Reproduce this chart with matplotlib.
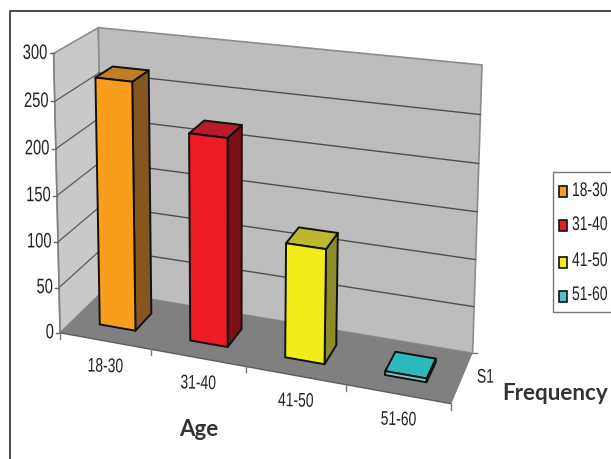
import numpy as np
import matplotlib
matplotlib.use("Agg")
import matplotlib.pyplot as plt
from matplotlib.patches import Polygon, Rectangle
from matplotlib.patheffects import AbstractPathEffect
from matplotlib.transforms import Affine2D

# Chart data
categories = ["18-30", "31-40", "41-50", "51-60"]
frequency = [269, 222, 121, 4]
value_ticks = [0, 50, 100, 150, 200, 250, 300]
series_label = "S1"

front_colors = ["#F99D1C", "#ED1C24", "#F2EC1C", "#6CD0D2"]
top_colors = ["#C07F24", "#B81C2A", "#BDB92E", "#2CB9BD"]
side_colors = ["#85561F", "#7D1014", "#8E8B28", "#1E8F92"]
legend_colors = ["#F99D1C", "#ED1C24", "#F2EC1C", "#4EC0D0"]

SANS = ["Liberation Sans", "DejaVu Sans"]
BOLD = ["Lato", "Open Sans", "DejaVu Sans"]


class TallText(AbstractPathEffect):
    """Stretch glyphs upward from the baseline for a condensed look."""

    def __init__(self, factor):
        super().__init__()
        self.factor = factor

    def draw_path(self, renderer, gc, tpath, affine, rgbFace=None):
        renderer.draw_path(gc, tpath, Affine2D().scale(1, self.factor) + affine, rgbFace)


tall = [TallText(1.42)]

# Perspective camera of the 3-D box, solved from the box corners.
# World axes: category position, depth (0 front, 1 back), value.
n_cat = len(categories)
vmax = value_ticks[-1]
world_corners = np.array([
    [0, 0, 0], [0, 0, vmax], [0, 1, vmax], [0, 1, 0],
    [n_cat, 1, 0], [n_cat, 1, vmax], [n_cat, 0, 0],
], float)
pixel_corners = np.array([
    [61, 333], [53, 53], [99, 28], [102, 291],
    [473, 353], [482, 65], [451, 404],
], float)


def solve_camera(world, pixels):
    rows, rhs = [], []
    for (X, Y, Z), (u, v) in zip(world, pixels):
        rows.append([X, Y, Z, 1, 0, 0, 0, 0, -u * X, -u * Y, -u * Z])
        rows.append([0, 0, 0, 0, X, Y, Z, 1, -v * X, -v * Y, -v * Z])
        rhs += [u, v]
    sol = np.linalg.lstsq(np.array(rows), np.array(rhs), rcond=None)[0]
    return np.append(sol, 1.0).reshape(3, 4)


camera = solve_camera(world_corners, pixel_corners)


def project(x, d, v):
    p = camera @ np.array([x, d, v, 1.0])
    return p[:2] / p[2]


def face(ax, pts, color, edge="none", lw=0.0, z=1):
    ax.add_patch(Polygon([project(*p) for p in pts], closed=True, facecolor=color,
                         edgecolor=edge, linewidth=lw, joinstyle="round", zorder=z))


def seg(ax, a, b, color, lw, z=2):
    pa, pb = project(*a), project(*b)
    ax.plot([pa[0], pb[0]], [pa[1], pb[1]], color=color, lw=lw, zorder=z,
            solid_capstyle="round")


def label(ax, x, y, s, ha="center", rotation=0.0, size=10.0):
    t = ax.text(x, y, s, ha=ha, va="center", fontsize=size, family=SANS,
                color="#222222", rotation=rotation, zorder=7)
    t.set_path_effects(tall)
    return t


fig = plt.figure(figsize=(6.11, 4.59), dpi=100, facecolor="white")
ax = fig.add_axes([0, 0, 1, 1])
ax.set_xlim(0, 611)
ax.set_ylim(459, 0)
ax.axis("off")

# Outer chart frame, open towards the right and bottom
ax.plot([10, 10, 611], [459, 11, 11], color="#4A4A4A", lw=1.4, zorder=1)

# Walls and floor
wall_edge = "#8C8C8C"
face(ax, [(0, 0, 0), (0, 1, 0), (0, 1, vmax), (0, 0, vmax)], "#C9C9C9", wall_edge, 1.2)
face(ax, [(0, 1, 0), (n_cat, 1, 0), (n_cat, 1, vmax), (0, 1, vmax)], "#BDBDBD", wall_edge, 1.2)
face(ax, [(0, 0, 0), (n_cat, 0, 0), (n_cat, 1, 0), (0, 1, 0)], "#808080")

# Gridlines on both walls
for v in value_ticks[1:-1]:
    seg(ax, (0, 0, v), (0, 1, v), "#5A5A5A", 0.9)
    seg(ax, (0, 1, v), (n_cat, 1, v), "#4F4F4F", 1.0)

# Value axis
seg(ax, (0, 0, 0), (0, 0, vmax), "#808080", 1.0, z=3)
for v in value_ticks:
    px, py = project(0, 0, v)
    ax.plot([px - 4, px], [py, py], color="#666666", lw=1.0, zorder=3)
    label(ax, px - 6, py + 1.5, str(v), ha="right", size=10.6)

# Category axis along the front of the floor
seg(ax, (0, 0, 0), (n_cat, 0, 0), "#5C5C5C", 1.0, z=3)
for k in range(n_cat + 1):
    px, py = project(k, 0, 0)
    ax.plot([px, px], [py, py + 6], color="#777777", lw=1.0, zorder=3)
for k, name in enumerate(categories):
    px, py = project(k + 0.5, 0, 0)
    label(ax, px + 0.5, py + 27, name, rotation=-1.5)

# Series axis on the right of the floor
px, py = project(n_cat, 1, 0)
ax.plot([px, px + 4], [py, py], color="#777777", lw=1.0, zorder=3)
px, py = project(n_cat, 0.5, 0)
label(ax, px + 23, py + 1, series_label)

# Bars, each with front, side and top faces
x0_frac, x1_frac = 0.3, 0.7
d0, d1 = 0.3, 0.7
ink = "#111111"
for k, v in enumerate(frequency):
    xa, xb = k + x0_frac, k + x1_frac
    face(ax, [(xb, d0, 0), (xb, d1, 0), (xb, d1, v), (xb, d0, v)], side_colors[k], ink, 1.4, z=4)
    face(ax, [(xa, d0, v), (xb, d0, v), (xb, d1, v), (xa, d1, v)], top_colors[k], ink, 1.4, z=4)
    face(ax, [(xa, d0, 0), (xb, d0, 0), (xb, d0, v), (xa, d0, v)], front_colors[k], ink, 1.4, z=4)

# Axis titles
ax.text(199, 429, "Age", ha="center", va="center", fontsize=16, family=BOLD,
        fontweight="bold", color="#333333", zorder=5)
ax.text(555, 394, "Frequency", ha="center", va="center", fontsize=16.2, family=BOLD,
        fontweight="bold", color="#333333", zorder=5)

# Legend box, running off the right edge
ax.add_patch(Rectangle((553, 172), 70, 140, facecolor="white", edgecolor="#777777",
                       linewidth=1.0, zorder=5))
legend_text_y = [192, 226, 262, 296]
legend_swatch_y = [191, 225, 262, 296]
for name, color, ty, sy in zip(categories, legend_colors, legend_text_y, legend_swatch_y):
    ax.add_patch(Rectangle((559, sy - 5.5), 8, 11, facecolor=color, edgecolor="#111111",
                           linewidth=1.2, zorder=6))
    label(ax, 572, ty, name, ha="left")

fig.savefig("out.png", dpi=100)
